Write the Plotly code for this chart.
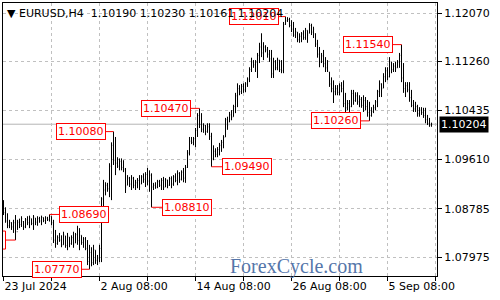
import plotly.graph_objects as go

# ---------------- data (EURUSD H4 bars) ----------------
bar_open = [
    1.0890, 1.0872, 1.0858, 1.0850, 1.0855, 1.0848, 1.0855, 1.0840, 1.0856, 1.0852,
    1.0857, 1.0848, 1.0860, 1.0855, 1.0862, 1.0854, 1.0863, 1.0856, 1.0862, 1.0858,
    1.0864, 1.0859, 1.0863, 1.0860, 1.0866, 1.0855, 1.0826, 1.0820, 1.0830, 1.0826,
    1.0818, 1.0833, 1.0817, 1.0831, 1.0820, 1.0830, 1.0821, 1.0835, 1.0825, 1.0834,
    1.0822, 1.0828, 1.0812, 1.0790, 1.0805, 1.0788, 1.0809, 1.0792, 1.0796, 1.0812,
    1.0895, 1.0910, 1.0918, 1.0912, 1.0950, 1.0985, 1.0960, 1.0955, 1.0950, 1.0958,
    1.0948, 1.0945, 1.0918, 1.0930, 1.0920, 1.0930, 1.0918, 1.0922, 1.0926, 1.0920,
    1.0932, 1.0928, 1.0936, 1.0925, 1.0935, 1.0915, 1.0918, 1.0915, 1.0924, 1.0918,
    1.0926, 1.0915, 1.0927, 1.0918, 1.0929, 1.0920, 1.0932, 1.0926, 1.0938, 1.0928,
    1.0940, 1.0930, 1.0948, 1.0972, 1.0992, 1.0990, 1.0996, 1.1010, 1.1035, 1.1020,
    1.1012, 1.1018, 1.1008, 1.1016, 1.1000, 1.0962, 1.0975, 1.0970, 1.0978, 1.0985,
    1.0990, 1.0999, 1.1028, 1.1024, 1.1036, 1.1033, 1.1050, 1.1068, 1.1080, 1.1075,
    1.1084, 1.1078, 1.1088, 1.1096, 1.1112, 1.1125, 1.1120, 1.1124, 1.1136, 1.1150,
    1.1140, 1.1150, 1.1145, 1.1138, 1.1130, 1.1105, 1.1125, 1.1115, 1.1128, 1.1112,
    1.1110, 1.1188, 1.1194, 1.1196, 1.1186, 1.1180, 1.1170, 1.1175, 1.1162, 1.1168,
    1.1172, 1.1166, 1.1178, 1.1173, 1.1186, 1.1175, 1.1172, 1.1155, 1.1138, 1.1125,
    1.1135, 1.1122, 1.1115, 1.1108, 1.1088, 1.1080, 1.1075, 1.1080, 1.1074, 1.1085,
    1.1080, 1.1055, 1.1048, 1.1055, 1.1050, 1.1072, 1.1060, 1.1068, 1.1058, 1.1062,
    1.1052, 1.1060, 1.1050, 1.1040, 1.1035, 1.1042, 1.1048, 1.1058, 1.1075, 1.1088,
    1.1081, 1.1100, 1.1110, 1.1100, 1.1125, 1.1112, 1.1118, 1.1115, 1.1125, 1.1136,
    1.1098, 1.1080, 1.1085, 1.1078, 1.1065, 1.1052, 1.1046, 1.1050, 1.1038, 1.1044,
    1.1040, 1.1035, 1.1028, 1.1022, 1.10190,
]
bar_high = [
    1.0893, 1.0881, 1.0871, 1.0860, 1.0856, 1.0860, 1.0868, 1.0860, 1.0862, 1.0866,
    1.0858, 1.0863, 1.0866, 1.0867, 1.0862, 1.0868, 1.0863, 1.0866, 1.0865, 1.0867,
    1.0864, 1.0866, 1.0865, 1.0869, 1.0866, 1.0860, 1.0843, 1.0834, 1.0838, 1.0834,
    1.0840, 1.0833, 1.0838, 1.0831, 1.0834, 1.0840, 1.0838, 1.0850, 1.0846, 1.0834,
    1.0831, 1.0831, 1.0826, 1.0818, 1.0814, 1.0818, 1.0809, 1.0801, 1.0818, 1.0898,
    1.0927, 1.0923, 1.0922, 1.0955, 1.0990, 1.1008, 1.0999, 1.0965, 1.0963, 1.0963,
    1.0960, 1.0947, 1.0935, 1.0932, 1.0935, 1.0932, 1.0927, 1.0930, 1.0935, 1.0935,
    1.0938, 1.0940, 1.0947, 1.0943, 1.0938, 1.0922, 1.0923, 1.0927, 1.0927, 1.0930,
    1.0932, 1.0930, 1.0927, 1.0932, 1.0933, 1.0935, 1.0938, 1.0943, 1.0940, 1.0943,
    1.0947, 1.0952, 1.0977, 1.0999, 1.0999, 1.0999, 1.1014, 1.1039, 1.1047, 1.1039,
    1.1022, 1.1019, 1.1022, 1.1022, 1.1006, 1.0985, 1.0980, 1.0982, 1.0989, 1.0994,
    1.1002, 1.1031, 1.1033, 1.1041, 1.1044, 1.1053, 1.1073, 1.1089, 1.1086, 1.1088,
    1.1089, 1.1091, 1.1099, 1.1116, 1.1132, 1.1128, 1.1128, 1.1140, 1.1157, 1.1173,
    1.1158, 1.1153, 1.1150, 1.1145, 1.1145, 1.1132, 1.1128, 1.1132, 1.1128, 1.1128,
    1.1192, 1.1201, 1.1200, 1.1199, 1.1195, 1.1192, 1.1182, 1.1175, 1.1173, 1.1175,
    1.1178, 1.1182, 1.1178, 1.1190, 1.1189, 1.1184, 1.1173, 1.1162, 1.1150, 1.1140,
    1.1145, 1.1133, 1.1128, 1.1108, 1.1099, 1.1094, 1.1086, 1.1086, 1.1089, 1.1091,
    1.1094, 1.1073, 1.1061, 1.1061, 1.1078, 1.1078, 1.1074, 1.1074, 1.1069, 1.1066,
    1.1069, 1.1066, 1.1061, 1.1058, 1.1049, 1.1053, 1.1061, 1.1078, 1.1094, 1.1089,
    1.1106, 1.1116, 1.1116, 1.1133, 1.1125, 1.1123, 1.1125, 1.1128, 1.1140, 1.1154,
    1.1123, 1.1091, 1.1091, 1.1091, 1.1078, 1.1061, 1.1058, 1.1053, 1.1049, 1.1049,
    1.1048, 1.1048, 1.1036, 1.1031, 1.10230,
]
bar_low = [
    1.0868, 1.0855, 1.0846, 1.0846, 1.0843, 1.0838, 1.0826, 1.0843, 1.0846, 1.0848,
    1.0843, 1.0846, 1.0851, 1.0846, 1.0851, 1.0843, 1.0851, 1.0850, 1.0855, 1.0851,
    1.0856, 1.0853, 1.0858, 1.0857, 1.0851, 1.0821, 1.0813, 1.0818, 1.0823, 1.0814,
    1.0818, 1.0813, 1.0809, 1.0814, 1.0818, 1.0813, 1.0821, 1.0818, 1.0809, 1.0818,
    1.0813, 1.0809, 1.0784, 1.0777, 1.0782, 1.0784, 1.0786, 1.0784, 1.0789, 1.0789,
    1.0876, 1.0901, 1.0907, 1.0898, 1.0893, 1.0952, 1.0935, 1.0947, 1.0943, 1.0943,
    1.0940, 1.0905, 1.0918, 1.0915, 1.0910, 1.0913, 1.0910, 1.0913, 1.0910, 1.0920,
    1.0922, 1.0915, 1.0918, 1.0907, 1.0881, 1.0910, 1.0912, 1.0913, 1.0915, 1.0910,
    1.0910, 1.0915, 1.0913, 1.0917, 1.0913, 1.0917, 1.0923, 1.0918, 1.0922, 1.0926,
    1.0923, 1.0922, 1.0947, 1.0968, 1.0987, 1.0985, 1.0982, 1.0999, 1.1014, 1.1007,
    1.1006, 1.1002, 1.1006, 1.0994, 1.0949, 1.0960, 1.0965, 1.0965, 1.0968, 1.0974,
    1.0980, 1.0999, 1.1011, 1.1024, 1.1027, 1.1033, 1.1039, 1.1049, 1.1069, 1.1071,
    1.1073, 1.1074, 1.1083, 1.1091, 1.1108, 1.1115, 1.1108, 1.1098, 1.1123, 1.1133,
    1.1128, 1.1141, 1.1132, 1.1125, 1.1098, 1.1098, 1.1111, 1.1111, 1.1108, 1.1106,
    1.1106, 1.1187, 1.1192, 1.1183, 1.1175, 1.1167, 1.1165, 1.1158, 1.1157, 1.1158,
    1.1162, 1.1162, 1.1157, 1.1173, 1.1170, 1.1165, 1.1150, 1.1132, 1.1116, 1.1123,
    1.1116, 1.1108, 1.1108, 1.1083, 1.1074, 1.1056, 1.1069, 1.1069, 1.1069, 1.1074,
    1.1049, 1.1039, 1.1044, 1.1041, 1.1049, 1.1053, 1.1058, 1.1053, 1.1049, 1.1048,
    1.1041, 1.1044, 1.1033, 1.1026, 1.1033, 1.1039, 1.1044, 1.1049, 1.1066, 1.1066,
    1.1081, 1.1091, 1.1094, 1.1099, 1.1106, 1.1108, 1.1108, 1.1115, 1.1115, 1.1091,
    1.1073, 1.1066, 1.1074, 1.1058, 1.1049, 1.1041, 1.1041, 1.1033, 1.1033, 1.1036,
    1.1031, 1.1022, 1.1019, 1.1016, 1.10161,
]
bar_close = [
    1.0872, 1.0858, 1.0850, 1.0855, 1.0848, 1.0855, 1.0840, 1.0856, 1.0852, 1.0862,
    1.0848, 1.0860, 1.0855, 1.0864, 1.0854, 1.0865, 1.0856, 1.0862, 1.0858, 1.0864,
    1.0859, 1.0863, 1.0860, 1.0866, 1.0855, 1.0826, 1.0820, 1.0830, 1.0826, 1.0818,
    1.0835, 1.0817, 1.0833, 1.0820, 1.0830, 1.0818, 1.0835, 1.0825, 1.0840, 1.0822,
    1.0828, 1.0812, 1.0790, 1.0805, 1.0788, 1.0810, 1.0792, 1.0796, 1.0812, 1.0895,
    1.0910, 1.0918, 1.0912, 1.0950, 1.0985, 1.0960, 1.0955, 1.0950, 1.0958, 1.0948,
    1.0945, 1.0915, 1.0930, 1.0920, 1.0930, 1.0918, 1.0922, 1.0926, 1.0915, 1.0932,
    1.0928, 1.0936, 1.0925, 1.0935, 1.0915, 1.0918, 1.0915, 1.0924, 1.0918, 1.0926,
    1.0914, 1.0927, 1.0918, 1.0929, 1.0920, 1.0932, 1.0926, 1.0938, 1.0928, 1.0940,
    1.0930, 1.0948, 1.0972, 1.0992, 1.0990, 1.0996, 1.1010, 1.1035, 1.1020, 1.1012,
    1.1018, 1.1008, 1.1016, 1.1000, 1.0962, 1.0975, 1.0970, 1.0978, 1.0985, 1.0990,
    1.0998, 1.1028, 1.1018, 1.1036, 1.1032, 1.1050, 1.1068, 1.1080, 1.1075, 1.1084,
    1.1078, 1.1088, 1.1096, 1.1112, 1.1125, 1.1120, 1.1124, 1.1136, 1.1150, 1.1140,
    1.1150, 1.1145, 1.1138, 1.1130, 1.1105, 1.1125, 1.1115, 1.1128, 1.1112, 1.1110,
    1.1188, 1.1194, 1.1196, 1.1186, 1.1180, 1.1170, 1.1176, 1.1162, 1.1168, 1.1172,
    1.1166, 1.1178, 1.1170, 1.1186, 1.1175, 1.1180, 1.1155, 1.1138, 1.1125, 1.1135,
    1.1122, 1.1115, 1.1110, 1.1088, 1.1080, 1.1075, 1.1080, 1.1074, 1.1085, 1.1080,
    1.1055, 1.1048, 1.1055, 1.1050, 1.1072, 1.1060, 1.1068, 1.1058, 1.1062, 1.1052,
    1.1060, 1.1050, 1.1040, 1.1035, 1.1042, 1.1048, 1.1058, 1.1075, 1.1088, 1.1080,
    1.1100, 1.1110, 1.1100, 1.1126, 1.1112, 1.1118, 1.1115, 1.1125, 1.1136, 1.1098,
    1.1080, 1.1085, 1.1078, 1.1065, 1.1052, 1.1046, 1.1050, 1.1038, 1.1044, 1.1040,
    1.1035, 1.1028, 1.1022, 1.1019, 1.10204,
]

x_tick_labels = ["23 Jul 2024", "", "2 Aug 08:00", "", "14 Aug 08:00", "",
                 "26 Aug 08:00", "", "5 Sep 08:00", ""]
y_tick_values = [1.07975, 1.08785, 1.09610, 1.10435, 1.11260, 1.12070]

swing_bars = [6, 23, 43, 55, 74, 98, 104, 141, 183, 199]
swing_kinds = ["low", "high", "low", "high", "low", "high", "low", "high", "low", "high"]

symbol = "EURUSD,H4"

# ---------------- figure ----------------
n = len(bar_close)
bar_index = list(range(n))

fig = go.Figure()
fig.add_trace(go.Ohlc(
    x=bar_index, open=bar_open, high=bar_high, low=bar_low, close=bar_close,
    increasing=dict(line=dict(color="#000000", width=1)),
    decreasing=dict(line=dict(color="#000000", width=1)),
    tickwidth=0.3, hoverinfo="skip", showlegend=False,
))

last_close = bar_close[-1]
fig.add_shape(type="line", xref="paper", x0=0, x1=1, yref="y",
              y0=last_close, y1=last_close, line=dict(color="#b4b4b4", width=1),
              layer="below")

RED = "#ff0000"
label_font = dict(family="DejaVu Sans", size=11, color=RED)

# swing labels (box + horizontal connector to the bar extreme)
label_offsets = [-35, 34, -33, -33, 35, -34, 35, -32, -34, -34]
for k, (i, kind, off) in enumerate(zip(swing_bars, swing_kinds, label_offsets)):
    price = bar_high[i] if kind == "high" else bar_low[i]
    text = f"{price:.5f}"
    if k == 0:
        # label that sits past the left edge of the chart: drawn as clipped shapes
        fig.add_shape(type="rect", xref="x", yref="y",
                      xsizemode="pixel", ysizemode="pixel",
                      xanchor=i, yanchor=price, x0=off - 25, x1=off + 25,
                      y0=-9, y1=9, line=dict(color=RED, width=1),
                      fillcolor="#ffffff", layer="above",
                      label=dict(text=text, font=label_font))
        fig.add_shape(type="line", xref="x", yref="y",
                      xsizemode="pixel", ysizemode="pixel",
                      xanchor=i, yanchor=price, x0=off + 25, x1=0, y0=0, y1=0,
                      line=dict(color=RED, width=1), layer="above")
        continue
    fig.add_annotation(
        x=i, y=price, xref="x", yref="y", text=text,
        showarrow=True, arrowhead=0, arrowwidth=1, arrowcolor=RED,
        ax=off, ay=0, axref="pixel", ayref="pixel", standoff=0,
        font=label_font,
        bgcolor="#ffffff", bordercolor=RED, borderwidth=1, borderpad=1,
    )

# current price tag on the right axis
fig.add_annotation(
    x=1, xref="paper", y=last_close, yref="y", xanchor="left", yanchor="middle",
    xshift=2, text=f"{last_close:.5f}", showarrow=False,
    font=dict(family="DejaVu Sans", size=11, color="#ffffff"),
    bgcolor="#000000", borderpad=1,
)

# header
header = (f"\u25BC {symbol}\u00a0\u00a0{bar_open[-1]:.5f} {bar_high[-1]:.5f} "
          f"{bar_low[-1]:.5f} {bar_close[-1]:.5f}")
fig.add_annotation(
    x=0, xref="paper", y=1, yref="paper", xanchor="left", yanchor="top",
    xshift=2, yshift=-2, text=header, showarrow=False,
    font=dict(family="DejaVu Sans", size=11, color="#000000"),
)

# watermark
fig.add_annotation(
    x=0.677, xref="paper", y=0.035, yref="paper", xanchor="center", yanchor="middle",
    text="ForexCycle.com", showarrow=False,
    font=dict(family="Liberation Serif", size=20, color="#5576aa"),
)

fig.update_layout(
    width=500, height=300,
    margin=dict(l=3, r=63, t=3, b=24),
    paper_bgcolor="#ffffff", plot_bgcolor="#ffffff",
    showlegend=False,
    xaxis=dict(
        range=[-0.25, 216.75], rangeslider=dict(visible=False),
        tickmode="array", tickvals=list(range(0, 217, 24)), ticktext=x_tick_labels,
        ticklabelposition="outside right",
        showgrid=True, gridcolor="#c0c0c0", griddash="3px,3px", gridwidth=1,
        ticks="outside", ticklen=4, tickcolor="#000000",
        showline=True, linecolor="#000000", linewidth=1, mirror=True,
        zeroline=False,
        tickfont=dict(family="DejaVu Sans", size=11, color="#000000"),
    ),
    yaxis=dict(
        side="right", range=[1.07657, 1.12238],
        tickmode="array", tickvals=y_tick_values,
        ticktext=[f"{v:.5f}" for v in y_tick_values],
        showgrid=True, gridcolor="#c0c0c0", griddash="3px,3px", gridwidth=1,
        ticks="outside", ticklen=4, tickcolor="#000000",
        showline=True, linecolor="#000000", linewidth=1, mirror=True,
        zeroline=False,
        tickfont=dict(family="DejaVu Sans", size=11, color="#000000"),
    ),
)

fig.write_html("out.html")
